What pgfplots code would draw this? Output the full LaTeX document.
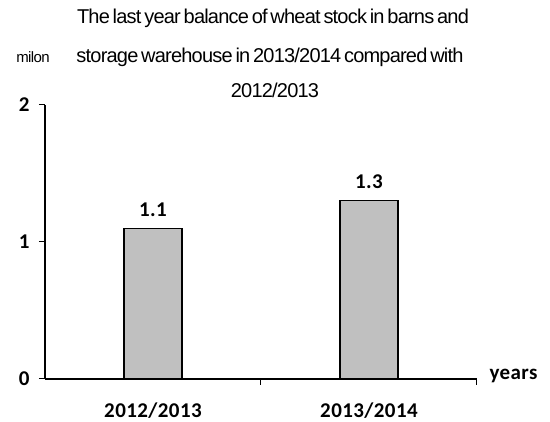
\documentclass[border=0pt]{standalone}
\usepackage{fontspec}
\setmainfont{Liberation Sans}
\newfontfamily\carlito[LetterSpace=2]{Carlito}
\newfontfamily\titlefont[LetterSpace=-4,WordSpace=0.6]{Liberation Sans}
\usepackage{pgfplots}
\pgfplotsset{compat=1.18}
\definecolor{bargray}{RGB}{192,192,192}
\begin{document}
\begin{tikzpicture}[x=1pt,y=1pt]
\path (-45,-42) rectangle (505,379);
\begin{axis}[
  at={(0,0)}, anchor=south west,
  scale only axis, width=432pt, height=274pt,
  xmin=-0.5, xmax=1.5, ymin=0, ymax=2,
  axis x line=bottom, axis y line=left,
  axis line style={-, line width=1.2pt},
  ytick={0,1,2}, xtick={0,1}, xticklabels={2012/2013,2013/2014},
  minor xtick={0.5,1.5},
  tick align=outside, major tick length=6pt, minor tick length=6pt,
  every major x tick/.append style={draw=none},
  every tick/.append style={black, line width=1pt},
  ticklabel style={font=\carlito\bfseries\fontsize{21}{21}\selectfont},
  /pgf/number format/assume math mode=true,
  yticklabel style={xshift=-6pt},
  xticklabel style={yshift=-14pt},
  ybar, bar width=58pt,
  nodes near coords,
  every node near coord/.append style={font=\carlito\bfseries\fontsize{21}{21}\selectfont, yshift=8pt},
  clip=false,
]
\addplot[fill=bargray, draw=black, line width=1.2pt] coordinates {(0,1.1) (1,1.3)};
\end{axis}
\node[font=\titlefont\fontsize{20}{20}\selectfont] at (228,361) {The last year balance of wheat stock in barns and};
\node[font=\titlefont\fontsize{20}{20}\selectfont] at (225,322) {storage warehouse in 2013/2014 compared with};
\node[font=\titlefont\fontsize{20}{20}\selectfont] at (230,289) {2012/2013};
\node[font=\titlefont\fontsize{15}{15}\selectfont] at (-12,322) {milon};
\node[font=\carlito\bfseries\fontsize{21}{21}\selectfont, anchor=west] at (441,3) {years};
\end{tikzpicture}
\end{document}
